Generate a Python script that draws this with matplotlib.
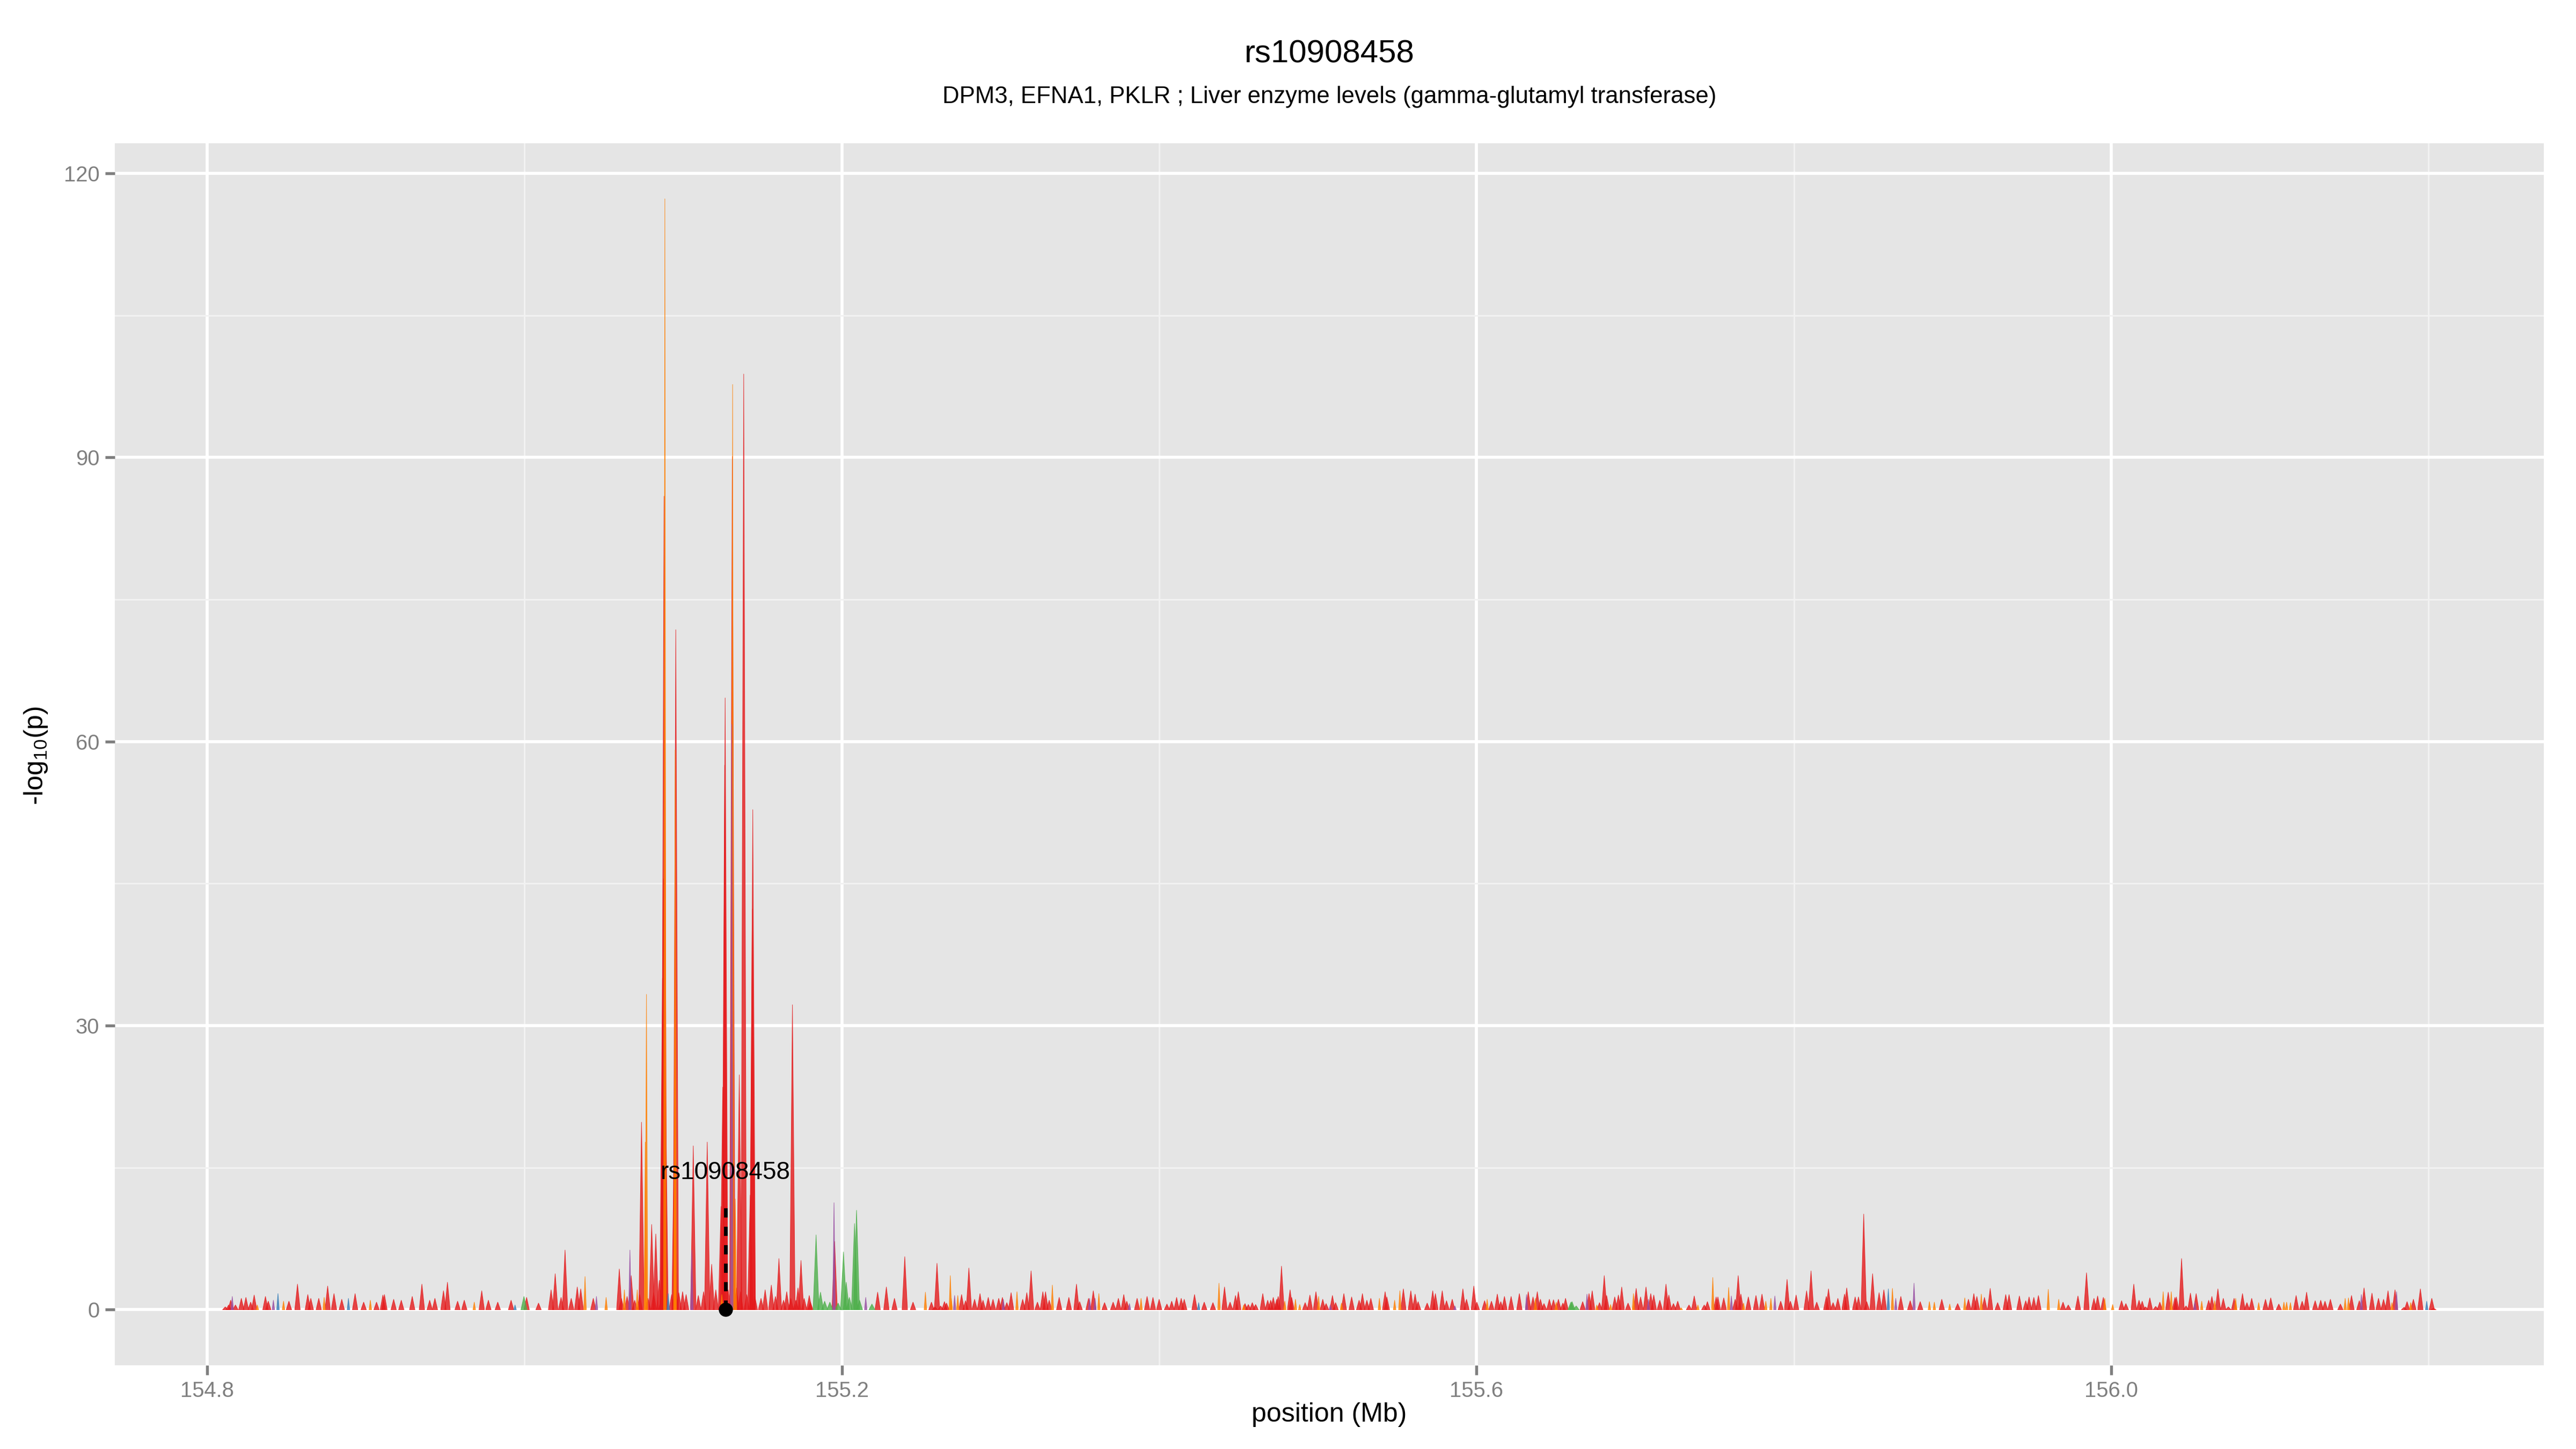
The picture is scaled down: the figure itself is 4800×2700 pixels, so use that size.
import matplotlib
matplotlib.use("Agg")
import matplotlib.pyplot as plt
from matplotlib.collections import PolyCollection
from matplotlib.ticker import FixedLocator
import numpy as np

plt.rcParams['font.family'] = ['Liberation Sans', 'DejaVu Sans']
plt.rcParams['mathtext.default'] = 'regular'

# ---------------- data ----------------
title = "rs10908458"
subtitle = "DPM3, EFNA1, PKLR ; Liver enzyme levels (gamma-glutamyl transferase)"
x_title = "position (Mb)"
y_title = "-log$_{10}$(p)"

lead_snp = "rs10908458"
lead_pos = 155.1268      # Mb
lead_stem = 11.6         # top of dashed marker
lead_label_y = 14.5

x_major = [154.8, 155.2, 155.6, 156.0]
x_minor = [155.0, 155.4, 155.8, 156.2]
y_major = [0, 30, 60, 90, 120]
y_minor = [15, 45, 75, 105]

# SNP positions (Mb)
pos_mb = [
    154.8115, 154.8136, 154.8149, 154.8159, 154.8179, 154.8216, 154.8245, 154.8275, 154.8297, 154.8317,
    154.8368, 154.8386, 154.8418, 154.8447, 154.8482, 154.8516, 154.8570, 154.8635, 154.8654, 154.8704,
    154.8738, 154.8760, 154.8800, 154.8849, 154.8891, 154.8933, 154.8987, 154.9029, 154.9068, 154.9108,
    154.9118, 154.9176, 154.9224, 154.9293, 154.9354, 154.9403, 154.9436, 154.9490, 154.9515, 154.9579,
    154.9621, 154.9684, 154.9731, 154.9773, 154.9832, 154.9916, 154.9941, 154.9997, 155.0014, 155.0089,
    155.0168, 155.0194, 155.0231, 155.0256, 155.0295, 155.0333, 155.0355, 155.0382, 155.0434, 155.0454,
    155.0515,
    155.0598, 155.0611, 155.0630, 155.0647, 155.0665, 155.0673, 155.0695, 155.0711, 155.0727, 155.0738,
    155.0762, 155.0769, 155.0779, 155.0802, 155.0815, 155.0828, 155.0850, 155.0863, 155.0870, 155.0876,
    155.0880, 155.0885, 155.0889, 155.0906, 155.0928, 155.0946, 155.0948, 155.0950, 155.0954, 155.0973,
    155.0997, 155.1019, 155.1055, 155.1064, 155.1096, 155.1129, 155.1152, 155.1180, 155.1206, 155.1239,
    155.1244, 155.1250, 155.1262, 155.1265, 155.1284, 155.1307, 155.1310, 155.1312, 155.1329, 155.1336,
    155.1354, 155.1362, 155.1382, 155.1401, 155.1423, 155.1436, 155.1439, 155.1452, 155.1491, 155.1517,
    155.1556, 155.1582, 155.1604, 155.1633, 155.1653, 155.1679, 155.1689, 155.1711, 155.1724, 155.1743,
    155.1763, 155.1795, 155.1802, 155.1838, 155.1866, 155.1892, 155.1925, 155.1951, 155.1955, 155.1977,
    155.2011, 155.2028, 155.2048, 155.2080, 155.2093, 155.2112, 155.2151, 155.2190, 155.2226, 155.2281,
    155.2332, 155.2397, 155.2449, 155.2527, 155.2565,
    155.2587, 155.2600, 155.2623, 155.2647, 155.2660, 155.2684, 155.2690, 155.2711, 155.2731, 155.2755,
    155.2780, 155.2801, 155.2837, 155.2871, 155.2890, 155.2923, 155.2953, 155.2989, 155.3012, 155.3018,
    155.3040, 155.3067, 155.3104, 155.3140, 155.3166, 155.3193, 155.3233, 155.3267, 155.3284, 155.3307,
    155.3327, 155.3370, 155.3431, 155.3479, 155.3499, 155.3555, 155.3562, 155.3585, 155.3596, 155.3620,
    155.3656, 155.3710, 155.3743, 155.3777, 155.3796, 155.3813, 155.3861, 155.3886, 155.3924, 155.3961,
    155.4000, 155.4049, 155.4079, 155.4110, 155.4139, 155.4158, 155.4223, 155.4249, 155.4284, 155.4339,
    155.4377, 155.4412, 155.4447,
    155.4481, 155.4499, 155.4533, 155.4541, 155.4562, 155.4587, 155.4608, 155.4653, 155.4684, 155.4703,
    155.4719, 155.4741, 155.4750, 155.4771, 155.4792, 155.4825, 155.4835, 155.4859, 155.4886, 155.4920,
    155.4950, 155.4988, 155.5005, 155.5031, 155.5052, 155.5079, 155.5092, 155.5112, 155.5149, 155.5164,
    155.5213, 155.5260, 155.5281, 155.5309, 155.5334, 155.5388, 155.5424, 155.5435, 155.5484, 155.5517,
    155.5539, 155.5586, 155.5613, 155.5632, 155.5689, 155.5724, 155.5741, 155.5784, 155.5811, 155.5847,
    155.5864, 155.5914, 155.5937, 155.5983, 155.6002, 155.6051, 155.6067, 155.6094, 155.6131, 155.6153,
    155.6176, 155.6218, 155.6270, 155.6315, 155.6326, 155.6356,
    155.6371, 155.6383, 155.6403, 155.6425, 155.6459, 155.6485, 155.6502, 155.6516, 155.6544, 155.6561,
    155.6595, 155.6602, 155.6628, 155.6669, 155.6696, 155.6709, 155.6729, 155.6758, 155.6775, 155.6805,
    155.6820, 155.6845, 155.6871, 155.6894, 155.6915, 155.6955, 155.6989, 155.7006, 155.7034, 155.7068,
    155.7083, 155.7098, 155.7117, 155.7155, 155.7194, 155.7212, 155.7241, 155.7268, 155.7290, 155.7339,
    155.7372, 155.7395, 155.7435, 155.7455, 155.7489, 155.7510, 155.7521, 155.7558, 155.7589, 155.7606,
    155.7630, 155.7649, 155.7666, 155.7683, 155.7713, 155.7761, 155.7799, 155.7823, 155.7855, 155.7880,
    155.7917, 155.7957, 155.7978, 155.8014, 155.8080, 155.8108, 155.8144, 155.8204, 155.8218, 155.8247,
    155.8277, 155.8319, 155.8333, 155.8386, 155.8407, 155.8440, 155.8459, 155.8496, 155.8537, 155.8567,
    155.8595, 155.8621, 155.8642, 155.8674, 155.8733, 155.8757, 155.8796, 155.8854, 155.8885, 155.8932,
    155.8982, 155.9032, 155.9077, 155.9100, 155.9134, 155.9153, 155.9181, 155.9201, 155.9237, 155.9284,
    155.9335, 155.9356, 155.9421, 155.9461, 155.9482, 155.9512, 155.9541, 155.9603, 155.9669, 155.9696,
    155.9729, 155.9790, 155.9844, 155.9891, 155.9914, 155.9950, 155.9959, 156.0009, 156.0065, 156.0092,
    156.0142, 156.0175,
    156.0195, 156.0216, 156.0243, 156.0280, 156.0306, 156.0327, 156.0359, 156.0378, 156.0401, 156.0410,
    156.0443, 156.0471, 156.0499, 156.0527, 156.0535, 156.0570, 156.0614, 156.0634, 156.0652, 156.0672,
    156.0706, 156.0738, 156.0774, 156.0784, 156.0827, 156.0855, 156.0885, 156.0929, 156.0972, 156.1005,
    156.1056, 156.1088, 156.1105, 156.1129, 156.1165, 156.1203, 156.1231, 156.1285, 156.1320, 156.1347,
    156.1381, 156.1444, 156.1474, 156.1495, 156.1514, 156.1563, 156.1576, 156.1593, 156.1643, 156.1684,
    156.1716, 156.1744, 156.1769, 156.1788, 156.1798, 156.1845, 156.1864, 156.1887, 156.1904, 156.1948,
    156.1988, 156.2020, 156.2030,
]

# -log10(p)
logp = [
    0.3, 0.5, 1.0, 1.4, 0.5, 1.2, 1.3, 0.8, 1.55, 0.5,
    1.4, 0.9, 1.0, 1.7, 0.9, 0.9, 2.7, 1.6, 1.2, 1.2,
    1.3, 2.5, 1.7, 1.1, 1.2, 1.7, 0.8, 1.0, 0.8, 1.55,
    1.6, 1.1, 1.0, 1.4, 2.7, 1.0, 1.2, 2.0, 2.9, 0.9,
    1.0, 0.8, 2.0, 1.0, 0.8, 1.0, 0.5, 1.4, 1.3, 0.7,
    2.1, 3.8, 1.3, 6.3, 1.2, 2.4, 2.2, 3.5, 1.2, 1.4,
    1.3,
    4.3, 1.2, 2.1, 1.4, 6.3, 3.6, 1.0, 2.1, 1.6, 19.8,
    17.7, 33.3, 1.2, 9.0, 1.8, 8.0, 3.1, 1.4, 35.0, 45.5,
    85.9, 117.3, 24.2, 1.7, 1.6, 20.5, 24.4, 59.1, 71.8, 1.8,
    1.9, 1.6, 6.3, 17.3, 1.5, 1.9, 17.7, 4.8, 2.1, 10.9,
    1.6, 23.5, 57.5, 64.6, 2.1, 61.8, 90.1, 97.7, 11.7, 2.3,
    24.8, 1.9, 98.8, 1.6, 12.1, 42.3, 52.8, 1.4, 1.2, 2.1,
    2.6, 1.4, 5.4, 1.0, 1.9, 1.2, 32.2, 1.0, 2.3, 5.2,
    1.2, 1.5, 0.8, 7.9, 1.85, 0.9, 0.8, 11.3, 7.2, 0.7,
    6.1, 2.9, 1.3, 9.1, 10.5, 1.0, 1.3, 0.6, 1.85, 2.4,
    1.2, 5.6, 0.8, 1.85, 0.8,
    0.3, 4.9, 0.4, 0.85, 0.7, 3.6, 1.2, 1.5, 1.5, 1.6,
    0.95, 4.4, 1.1, 1.7, 1.0, 1.3, 1.1, 1.2, 1.3, 1.1,
    0.75, 1.8, 1.9, 1.1, 1.8, 4.1, 0.8, 1.9, 1.9, 1.0,
    2.6, 1.3, 1.3, 2.7, 0.85, 1.2, 1.2, 2.0, 1.2, 1.7,
    0.75, 0.8, 1.2, 1.6, 0.9, 0.65, 1.2, 1.2, 1.4, 1.3,
    1.1, 0.6, 0.9, 1.3, 1.2, 1.1, 1.6, 0.75, 0.8, 0.75,
    2.8, 2.4, 0.8,
    1.5, 1.9, 0.5, 0.65, 0.55, 0.75, 0.55, 1.7, 1.0, 1.0,
    1.3, 1.1, 1.4, 4.6, 0.9, 2.1, 1.3, 1.1, 0.55, 0.75,
    1.55, 1.9, 1.4, 1.1, 0.65, 0.5, 1.5, 0.75, 0.7, 1.7,
    1.35, 1.0, 1.7, 1.0, 1.2, 1.2, 1.9, 1.35, 1.0, 2.0,
    2.2, 2.0, 1.65, 0.85, 0.7, 2.0, 1.7, 2.0, 0.95, 1.1,
    0.4, 2.2, 1.1, 2.5, 0.8, 0.95, 1.1, 0.9, 1.65, 0.85,
    1.4, 1.4, 1.7, 1.6, 1.9, 1.35,
    1.2, 1.9, 1.1, 0.65, 1.1, 1.05, 0.8, 1.1, 0.7, 1.2,
    0.8, 0.85, 0.4, 0.85, 1.65, 1.7, 2.0, 0.5, 0.75, 3.6,
    1.5, 0.55, 1.35, 1.55, 2.4, 0.7, 1.7, 2.25, 1.35, 2.4,
    1.1, 1.7, 1.55, 1.0, 2.7, 1.55, 0.65, 0.9, 0.2, 0.5,
    1.45, 0.5, 0.5, 0.85, 3.4, 1.35, 1.35, 1.25, 2.35, 1.45,
    1.1, 3.6, 1.65, 0.7, 1.35, 1.5, 1.65, 0.9, 1.2, 1.45,
    0.9, 3.2, 0.9, 1.55, 2.0, 4.1, 0.8, 1.4, 2.2, 0.75,
    1.2, 1.65, 2.3, 1.35, 1.35, 10.1, 0.85, 3.8, 1.8, 2.1,
    2.2, 2.25, 1.2, 1.4, 0.95, 2.8, 0.85, 0.85, 0.8, 1.1,
    0.6, 0.65, 1.25, 1.1, 1.7, 1.4, 1.65, 1.3, 2.25, 0.75,
    1.6, 1.6, 1.45, 0.95, 1.35, 1.3, 1.5, 2.15, 1.1, 0.8,
    0.5, 1.45, 3.9, 1.2, 1.45, 1.3, 1.2, 0.55, 0.95, 0.65,
    2.7, 1.0,
    0.9, 0.3, 1.25, 0.35, 0.8, 1.9, 1.85, 1.9, 1.3, 1.35,
    5.4, 0.4, 1.75, 0.8, 1.7, 0.9, 1.0, 1.4, 0.95, 2.2,
    1.2, 0.3, 1.2, 1.2, 1.7, 0.75, 1.2, 0.75, 1.1, 1.25,
    0.6, 0.8, 0.8, 0.75, 1.5, 0.9, 1.85, 0.95, 1.0, 0.9,
    1.1, 0.6, 1.2, 1.25, 1.5, 0.95, 1.6, 2.3, 1.75, 1.2,
    1.1, 2.0, 0.75, 2.1, 1.9, 0.25, 0.85, 0.75, 1.1, 2.2,
    0.9, 1.2, 0.15,
]

# LD class of each SNP, same order (r=red, o=orange, g=green, p=purple, b=blue)
ld_class = list(
    "rrrprrrrro" "rrpborrrrr" "orrrbrrorr" "rrrrrrrrrr" "rorrrrbgrr" "rrrrrrrorp"
    "o"
    "rrorprrorr" "oorrrrrrrr" "rorbrroorr" "rrprrrrrrr" "orrrrproor"
    "rrrrrrrrrr" "rrrrrrrrrr" "rrrggggprg" "ggggggpgrr" "rrror"
    "rrrrroopor" "rrrrrrrrrp" "rrorrrrrrr" "orrrrrprpo" "rrrrrprorr"
    "rrrrrrrbrr" "orr"
    "rrorrrrrrr" "rrrrorroor" "rrorrprror" "rrrrrorroo" "rrrrrrrrrr"
    "prrrrrorrr" "rrrprr"
    "orrrrrorrr" "gggrprrorr" "rorrrrorrr" "prrrrrrror" "rorrorrrop"
    "rrrorrroop"
    "rrrrrrrrrr" "rrrrrrrrrr" "boprrproor" "ororrrorrr" "rrrrrrroor"
    "rrrrrroorr" "rr"
    "rrrrrororr" "rrrprorror" "rrrorrrorr" "rooorrrrrr" "rroorrprrr"
    "rrorprrorr" "brr"
)

ld_colors = {'r': '#E41A1C', 'o': '#FF7F00', 'g': '#4DAF4A', 'p': '#984EA3', 'b': '#377EB8'}
draw_order = ['r', 'g', 'o', 'p', 'b']
spike_half = {'r': 0.0017, 'g': 0.0019, 'o': 0.0008, 'p': 0.0008, 'b': 0.0008}  # Mb

# ---------------- figure ----------------
pos = np.asarray(pos_mb)
val = np.asarray(logp)
cls = np.asarray(ld_class)
n = min(len(pos), len(val), len(cls))
pos, val, cls = pos[:n], val[:n], cls[:n]

fig = plt.figure(figsize=(16, 9), dpi=300)
ax = fig.add_axes([0.0446, 0.0578, 0.9429, 0.8433])
ax.set_facecolor('#E5E5E5')
for s in ax.spines.values():
    s.set_visible(False)

for g in draw_order:
    m = cls == g
    hw = spike_half[g]
    verts = [[(x - hw, 0.0), (x, v), (x + hw, 0.0)] for x, v in zip(pos[m], val[m])]
    pc = PolyCollection(verts, facecolors=ld_colors[g], edgecolors=ld_colors[g],
                        linewidths=0.25, alpha=0.8, zorder=3)
    ax.add_collection(pc)

# lead SNP marker
ax.plot([lead_pos, lead_pos], [0, lead_stem], color='black', lw=1.65,
        linestyle=(0, (2.5, 2.5)), zorder=5, solid_capstyle='butt')
ax.plot([lead_pos], [0], 'o', color='black', ms=5.3, zorder=6)
ax.text(lead_pos, lead_label_y, lead_snp, ha='center', va='center', fontsize=11,
        color='black', zorder=7)

# limits with 5% expansion
xr = pos.max() - pos.min()
ax.set_xlim(pos.min() - 0.05 * xr, pos.max() + 0.05 * xr)
ax.set_ylim(-0.05 * val.max(), val.max() * 1.05)

ax.xaxis.set_major_locator(FixedLocator(x_major))
ax.xaxis.set_minor_locator(FixedLocator(x_minor))
ax.yaxis.set_major_locator(FixedLocator(y_major))
ax.yaxis.set_minor_locator(FixedLocator(y_minor))
ax.set_xticklabels([f"{v:.1f}" for v in x_major])
ax.set_yticklabels([f"{v:d}" for v in y_major])

ax.grid(which='major', color='white', lw=1.35, zorder=0)
ax.grid(which='minor', color='#F2F2F2', lw=0.7, zorder=0)
ax.set_axisbelow(True)
ax.tick_params(which='major', length=4.4, width=1.3, color='#7F7F7F',
               labelcolor='#7F7F7F', labelsize=9.6, pad=2.5)
ax.tick_params(which='minor', length=0)

cx = 0.0446 + 0.9429 / 2
fig.text(cx, 0.9626, title, ha='center', va='center', fontsize=14.4)
fig.text(cx, 0.9331, subtitle, ha='center', va='center', fontsize=10.5)
fig.text(cx, 0.0238, x_title, ha='center', va='center', fontsize=12)
fig.text(0.014, 0.4785, y_title, ha='center', va='center', fontsize=12, rotation=90)

fig.savefig('out.png', dpi=300, facecolor='white')
